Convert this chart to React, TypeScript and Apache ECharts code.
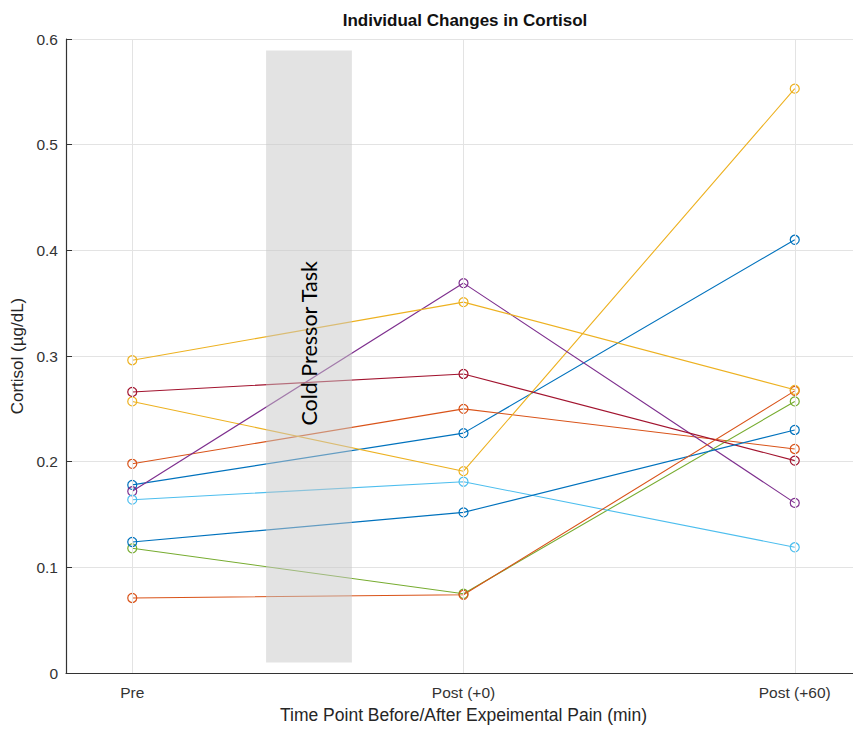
import React, { useEffect, useRef } from "react";
import * as echarts from "echarts";

const timePoints = ["Pre", "Post (+0)", "Post (+60)"];
const xPositions = [1, 2, 3];

const s1 = [0.178, 0.227, 0.410];
const s2 = [0.198, 0.250, 0.212];
const s3 = [0.257, 0.191, 0.553];
const s4 = [0.172, 0.369, 0.161];
const s5 = [0.118, 0.075, 0.257];
const s6 = [0.164, 0.181, 0.119];
const s7 = [0.266, 0.283, 0.201];
const s8 = [0.124, 0.152, 0.230];
const s9 = [0.071, 0.074, 0.267];
const s10 = [0.296, 0.351, 0.268];
const subjects = [s1, s2, s3, s4, s5, s6, s7, s8, s9, s10];

const palette = ["#0072BD", "#D95319", "#EDB120", "#7E2F8E", "#77AC30", "#4DBEEE", "#A2142F"];

const taskX = [1.404, 1.663];
const taskY = [0.01, 0.589];
const taskLabel = "Cold Pressor Task";
const taskLabelPos = [1.534, 0.312];

const FONT = "Liberation Sans, Arial, Helvetica, sans-serif";

export default function App() {
  const ref = useRef<HTMLDivElement>(null);
  useEffect(() => {
    if (!ref.current) return;
    const chart = echarts.init(ref.current, null, { renderer: "svg" });
    const lineSeries = subjects.map((vals, i) => {
      const c = palette[i % palette.length];
      return {
        type: "line",
        name: "S" + (i + 1),
        data: vals.map((v, j) => [xPositions[j], v]),
        color: c,
        symbol: "circle",
        symbolSize: 9,
        showSymbol: true,
        lineStyle: { color: c, width: 1.1 },
        itemStyle: { color: "rgba(255,255,255,0)", borderColor: c, borderWidth: 1.2 },
        z: 3,
        silent: true,
      };
    });
    chart.setOption({
      animation: false,
      textStyle: { fontFamily: FONT },
      title: {
        text: "Individual Changes in Cortisol",
        left: 465,
        top: 12,
        padding: 0,
        textAlign: "center",
        textStyle: { fontSize: 17, fontWeight: "bold", color: "#111", fontFamily: FONT },
      },
      grid: { left: 66, right: 0, top: 39, bottom: 54, containLabel: false },
      xAxis: {
        type: "value",
        min: 0.8,
        max: 3.2,
        name: "Time Point Before/After Expeimental Pain (min)",
        nameLocation: "middle",
        nameGap: 33,
        nameTextStyle: { fontSize: 17.5, color: "#262626", fontFamily: FONT },
        axisLine: { show: true, lineStyle: { color: "#333", width: 1.2 } },
        axisTick: { show: true, inside: true, length: 6, customValues: xPositions, lineStyle: { color: "#333" } },
        axisLabel: {
          customValues: xPositions,
          fontSize: 15.5,
          color: "#333",
          margin: 11,
          formatter: (v: number) => timePoints[Math.round(v) - 1] ?? "",
        },
        splitLine: { show: false },
      },
      yAxis: {
        type: "value",
        min: 0,
        max: 0.6,
        interval: 0.1,
        name: "Cortisol (µg/dL)",
        nameLocation: "middle",
        nameGap: 40,
        nameTextStyle: { fontSize: 17, color: "#262626", fontFamily: FONT },
        axisLine: { show: true, lineStyle: { color: "#333", width: 1.2 } },
        axisTick: { show: true, inside: true, length: 6, lineStyle: { color: "#333" } },
        axisLabel: { fontSize: 15.5, color: "#333", margin: 8 },
        splitLine: { show: true, lineStyle: { color: "#e3e3e3", width: 1 } },
      },
      series: [
        {
          type: "line",
          data: [],
          silent: true,
          z: 1,
          markLine: {
            silent: true,
            symbol: "none",
            animation: false,
            label: { show: false },
            lineStyle: { color: "#e3e3e3", width: 1, type: "solid" },
            data: xPositions.map((x) => ({ xAxis: x })),
          },
        },
        ...lineSeries,
        {
          type: "custom",
          silent: true,
          z: 10,
          data: [[taskX[0], taskY[0], taskX[1], taskY[1], taskLabelPos[0], taskLabelPos[1]]],
          encode: { x: [0, 2], y: [1, 3] },
          renderItem: (params: any, api: any) => {
            const p0 = api.coord([api.value(0), api.value(3)]);
            const p1 = api.coord([api.value(2), api.value(1)]);
            const pt = api.coord([api.value(4), api.value(5)]);
            return {
              type: "group",
              children: [
                {
                  type: "rect",
                  shape: { x: p0[0], y: p0[1], width: p1[0] - p0[0], height: p1[1] - p0[1] },
                  style: { fill: "rgba(200,200,200,0.5)" },
                },
                {
                  type: "text",
                  x: pt[0],
                  y: pt[1],
                  rotation: Math.PI / 2,
                  style: {
                    text: taskLabel,
                    fontSize: 21.5,
                    fontFamily: "Lato, Carlito, sans-serif",
                    fill: "#000",
                    textAlign: "center",
                    textVerticalAlign: "middle",
                  },
                },
              ],
            };
          },
        },
      ],
    });
    return () => chart.dispose();
  }, []);
  return (
    <div style={{ position: "absolute", left: 0, top: 0, width: 853, height: 729, overflow: "hidden", background: "#fff" }}>
      <div ref={ref} style={{ width: 861, height: 729 }} />
    </div>
  );
}
